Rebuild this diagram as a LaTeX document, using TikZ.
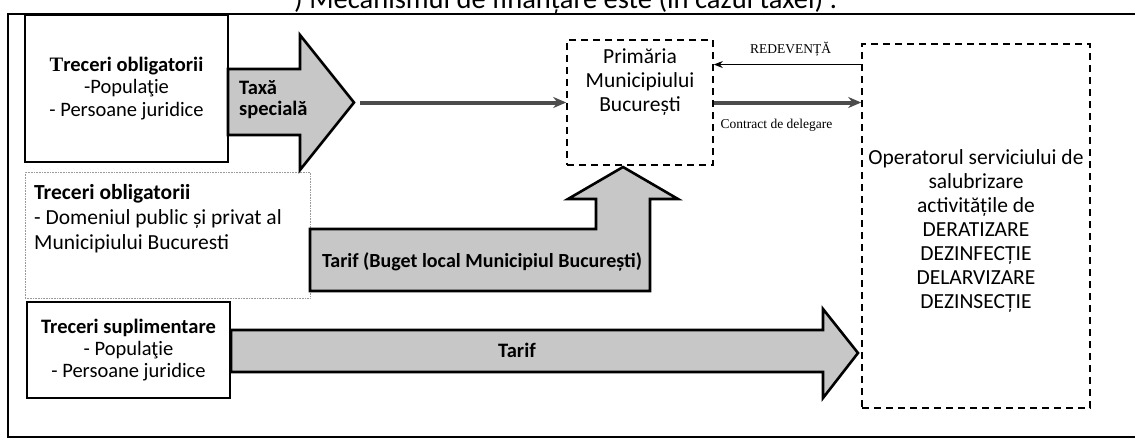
\documentclass[tikz,border=0pt]{standalone}
\usepackage{fontspec}
\setmainfont{Carlito}
\newfontfamily\timesfont{Liberation Serif}
\usetikzlibrary{positioning,calc,arrows.meta}
\begin{document}
\begin{tikzpicture}[x=1pt, y=-1pt,
  txt/.style={font=\fontsize{21.5}{24}\selectfont, align=center, inner sep=0pt},
  box/.style={draw, line width=1.6pt, txt},
  dashbox/.style={draw, line width=1.6pt, dash pattern=on 7pt off 5pt},
  faintbox/.style={draw=black!40, densely dotted, line width=0.6pt},
  blockarrow/.style={draw, line width=2.6pt, fill=black!22, line join=miter},
  bold/.style={txt, font=\bfseries\fontsize{20.5}{21}\selectfont},
  flowline/.style={-{Stealth[length=13pt,width=11pt]}, line width=4pt, draw=black!70},
  thinarrow/.style={-{Stealth[length=9pt,width=7pt]}, line width=0.9pt},
  small/.style={font=\timesfont\fontsize{13.5}{16}\selectfont, inner sep=1pt}
]
\useasboundingbox (0,0) rectangle (1135,445);
% cut page heading
\node[anchor=base west, inner sep=0pt, font=\fontsize{28.5}{30}\selectfont] (titlu) at (294,8) {) Mecanismul de finanțare este (în cazul taxei) :};
\draw[line width=1.2pt] (8,14) rectangle (1150,437);

% sources
\node[box, font=\fontsize{20.5}{22.5}\selectfont, minimum width=203pt, minimum height=147pt] (oblig) at (126.5,88.5)
  {\textbf{{\timesfont T}receri obligatorii}\\-Populaţie\\- Persoane juridice};
\node[faintbox, minimum width=285pt, minimum height=126pt] (domeniu) at (167.5,235) {};
\node[txt, font=\fontsize{21.5}{25}\selectfont, align=left, anchor=north west] (domtxt) at (34,184)
  {\textbf{Treceri obligatorii}\\- Domeniul public și privat al\\Municipiului Bucuresti};
\node[box, font=\fontsize{20.5}{22}\selectfont, minimum width=203pt, minimum height=96pt] (supl) at (128.5,350)
  {\textbf{Treceri suplimentare}\\- Populaţie\\- Persoane juridice};

% receivers
\node[dashbox, minimum width=146pt, minimum height=125pt] (prim) at (640,102.5) {};
\node[txt, below=9pt of prim.north] (primtxt) {Primăria\\Municipiului\\București};
\node[dashbox, minimum width=228pt, minimum height=364pt] (op) at (976,226) {};
\node[txt] (optxt) at (976,231)
  {Operatorul serviciului de\\salubrizare\\activitățile de\\DERATIZARE\\DEZINFECȚIE\\DELARVIZARE\\DEZINSECȚIE};

% block arrows
\draw[blockarrow] (228,69) -- (300,69) -- (300,35) -- (354,102.5) -- (300,170) -- (300,135) -- (228,135) -- cycle;
\coordinate (taxtip) at (354,102.5);
\node[bold, align=left, anchor=west] (taxa) at (239,100) {Taxă\\specială};

\draw[blockarrow] (310,229) -- (596,229) -- (596,199) -- (568,199) -- (623,167) -- (678,199) -- (650,199) -- (650,291) -- (310,291) -- cycle;
\node[bold, font=\bfseries\fontsize{20}{21}\selectfont] (buget) at (482,262) {Tarif (Buget local Municipiul București)};

\draw[blockarrow] (231,330) -- (823,330) -- (823,309) -- (858,353) -- (823,398) -- (823,372) -- (231,372) -- cycle;
\node[bold] (tarif) at (517,350) {Tarif};

% connectors
\coordinate (red) at ($(prim.north east)!0.2!(prim.south east)$);
\draw[flowline, shorten <=6pt] (taxtip) -- (prim.west);
\draw[thinarrow] (op.west |- red) -- node[small, above=7pt, xshift=3pt] {REDEVENȚĂ} (red);
\draw[flowline] (prim.east) -- node[small, below=14pt, xshift=-11pt] {Contract de delegare} (op.west |- prim.east);
\end{tikzpicture}
\end{document}
